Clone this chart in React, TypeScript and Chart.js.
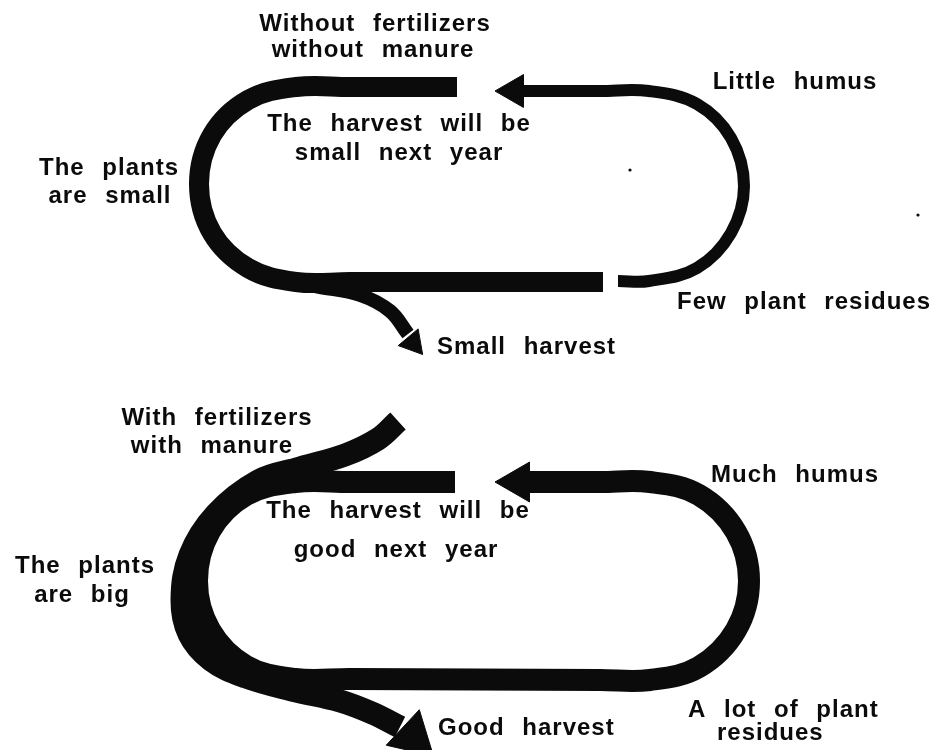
import { useEffect, useRef } from "react";
import { Chart, registerables } from "chart.js";

Chart.register(...registerables);

// ---- Diagram data (x to the right, y downward) ----
// Upper cycle: without fertilizers / manure
const upperLoopMain = [
  { x: 457, y: 87 }, { x: 350, y: 87 }, { x: 296, y: 87 }, { x: 248, y: 100 },
  { x: 212, y: 135 }, { x: 199, y: 184 }, { x: 212, y: 233 }, { x: 248, y: 268 },
  { x: 296, y: 282 }, { x: 350, y: 282 }, { x: 603, y: 282 },
];
const upperLoopReturn = [
  { x: 618, y: 281 }, { x: 649, y: 281 }, { x: 697, y: 268 }, { x: 731, y: 233 },
  { x: 744, y: 186 }, { x: 731, y: 138 }, { x: 697, y: 104 }, { x: 649, y: 91 },
  { x: 600, y: 91 }, { x: 520, y: 91 },
];
const upperHarvestBranch = [
  { x: 275, y: 279 }, { x: 320, y: 287 }, { x: 360, y: 295 }, { x: 390, y: 311 }, { x: 408, y: 334 },
];

// Lower cycle: with fertilizers / manure
const lowerLoopMain = [
  { x: 455, y: 482 }, { x: 350, y: 482 }, { x: 295, y: 482 }, { x: 246, y: 495 },
  { x: 210, y: 531 }, { x: 197, y: 581 }, { x: 210, y: 630 }, { x: 246, y: 666 },
  { x: 295, y: 679 }, { x: 350, y: 679 }, { x: 600, y: 680 }, { x: 650, y: 680 },
  { x: 699, y: 667 }, { x: 736, y: 630 }, { x: 749, y: 581 }, { x: 736, y: 532 },
  { x: 699, y: 495 }, { x: 650, y: 482 }, { x: 600, y: 482 }, { x: 520, y: 482 },
];
// Fertilizer/manure stream: enters at the top, runs along the outside, leaves as the harvest
const lowerInputStream = [
  { x: 398, y: 421 }, { x: 378, y: 439 }, { x: 345, y: 455 }, { x: 300, y: 468 },
  { x: 258, y: 481 }, { x: 216, y: 514 }, { x: 190, y: 555 }, { x: 182, y: 600 },
  { x: 189, y: 634 }, { x: 211, y: 660 }, { x: 246, y: 677 }, { x: 292, y: 690 },
  { x: 340, y: 701 }, { x: 372, y: 713 }, { x: 400, y: 727 },
];

// Arrow heads (position of each head)
const arrowHeads = [
  { x: 514, y: 91 }, { x: 413, y: 343 }, { x: 518, y: 482 }, { x: 413, y: 737 },
];
// Small specks in the scan
const specks = [{ x: 630, y: 170 }, { x: 918, y: 215 }];

// Labels
const labelTexts = [
  "Without fertilizers", "without manure", "Little humus",
  "The harvest will be", "small next year", "The plants", "are small",
  "Few plant residues", "Small harvest",
  "With fertilizers", "with manure", "Much humus",
  "The harvest will be", "good next year", "The plants", "are big",
  "Good harvest", "A lot of plant", "residues",
];
const labelAnchors = [
  { x: 375, y: 31 }, { x: 373, y: 57 }, { x: 795, y: 89 },
  { x: 399, y: 131 }, { x: 399, y: 160 }, { x: 109, y: 175 }, { x: 110, y: 203 },
  { x: 677, y: 309 }, { x: 437, y: 354 },
  { x: 217, y: 425 }, { x: 212, y: 453 }, { x: 795, y: 482 },
  { x: 398, y: 518 }, { x: 396, y: 557 }, { x: 85, y: 573 }, { x: 82, y: 602 },
  { x: 438, y: 735 }, { x: 688, y: 717 }, { x: 717, y: 740 },
];
const labelAlign: CanvasTextAlign[] = [
  "center", "center", "center",
  "center", "center", "center", "center",
  "left", "left",
  "center", "center", "center",
  "center", "center", "center", "center",
  "left", "left", "left",
];

// ---- Styles ----
const INK = "#0b0b0b";
const arrowSizes = [19, 15, 23, 28];
const arrowRotations = [270, 140, 270, 133];

function strokeDataset(data: { x: number; y: number }[], width: number) {
  return {
    data,
    showLine: true,
    borderColor: INK,
    borderWidth: width,
    borderJoinStyle: "round" as const,
    borderCapStyle: "butt" as const,
    tension: 0.38,
    pointRadius: 0,
    pointHoverRadius: 0,
    fill: false,
    clip: false as const,
  };
}

const labelPlugin = {
  id: "diagramLabels",
  afterDatasetsDraw(chart: any) {
    const { ctx, scales } = chart;
    ctx.save();
    ctx.fillStyle = INK;
    ctx.font = "bold 24px 'Liberation Sans', Arial, sans-serif";
    ctx.textBaseline = "alphabetic";
    try {
      (ctx as any).letterSpacing = "1px";
      (ctx as any).wordSpacing = "10px";
    } catch (e) {}
    labelTexts.forEach((t, i) => {
      ctx.textAlign = labelAlign[i];
      ctx.fillText(t, scales.x.getPixelForValue(labelAnchors[i].x), scales.y.getPixelForValue(labelAnchors[i].y));
    });
    ctx.restore();
  },
};

export default function App() {
  const ref = useRef<HTMLCanvasElement | null>(null);
  useEffect(() => {
    if (!ref.current) return;
    const chart = new Chart(ref.current, {
      type: "scatter",
      data: {
        datasets: [
          strokeDataset(upperLoopMain, 20),
          strokeDataset(upperLoopReturn, 12),
          strokeDataset(upperHarvestBranch, 14),
          strokeDataset(lowerLoopMain, 22),
          strokeDataset(lowerInputStream, 23),
          {
            data: arrowHeads,
            showLine: false,
            pointStyle: "triangle",
            pointRadius: arrowSizes,
            pointHoverRadius: arrowSizes,
            rotation: arrowRotations,
            backgroundColor: INK,
            borderColor: INK,
            borderWidth: 1,
            clip: false,
          } as any,
          {
            data: specks,
            showLine: false,
            pointStyle: "circle",
            pointRadius: 1.6,
            backgroundColor: INK,
            borderWidth: 0,
          } as any,
        ] as any,
      },
      options: {
        animation: false,
        responsive: true,
        maintainAspectRatio: false,
        events: [],
        layout: { padding: 0, autoPadding: false },
        scales: {
          x: { type: "linear", min: 0, max: 938, display: false },
          y: { type: "linear", min: 0, max: 750, reverse: true, display: false },
        },
        plugins: { legend: { display: false }, tooltip: { enabled: false } },
      },
      plugins: [labelPlugin],
    });
    return () => chart.destroy();
  }, []);
  return (
    <div style={{ position: "absolute", left: 0, top: 0, width: 938, height: 750, background: "#fff" }}>
      <canvas ref={ref} />
    </div>
  );
}
